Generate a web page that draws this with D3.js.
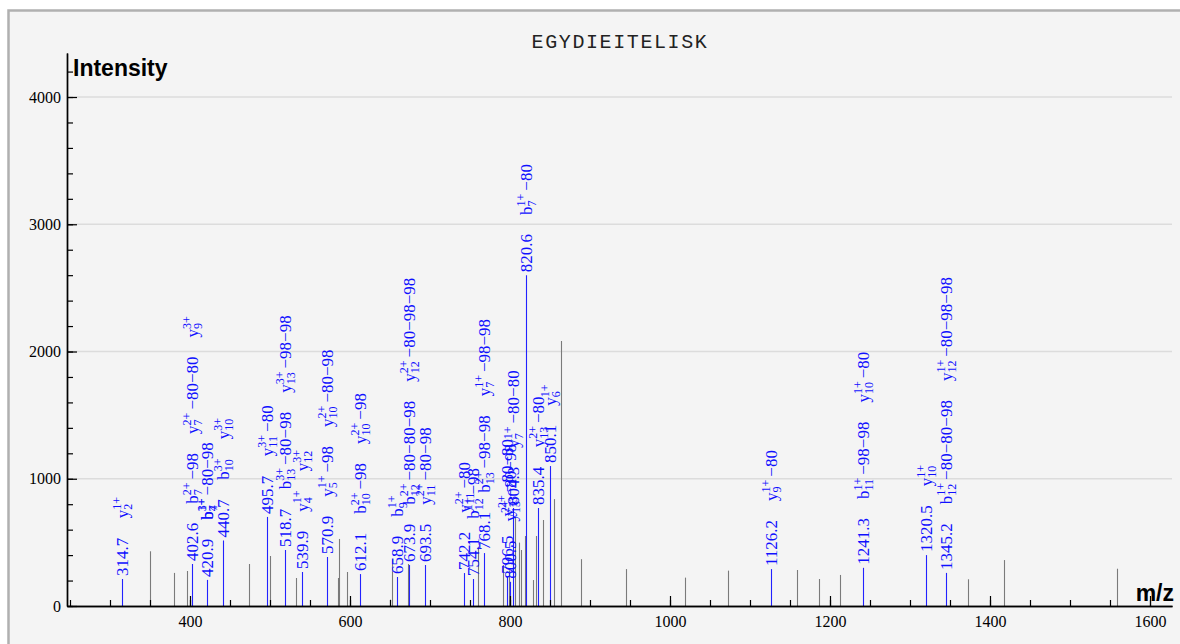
<!DOCTYPE html>
<html lang="en">
<head>
<meta charset="UTF-8">
<title>EGYDIEITELISK</title>
<style>
  html, body { margin: 0; padding: 0; background: #fff; overflow: hidden; }
  svg { display: block; }
</style>
</head>
<body>
<script src="https://cdn.jsdelivr.net/npm/d3@7"></script>
<script>
// ---- data ----
const peptide = 'EGYDIEITELISK';
const xMinor = d3.range(250, 1601, 50);
const xMajor = [400, 600, 800, 1000, 1200, 1400, 1600];
const yMinor = d3.range(0, 4201, 200);
const yMajor = [0, 1000, 2000, 3000, 4000];

// unannotated peaks
const grayMz  = [349.6, 380.4, 396.6, 474.0, 500.0, 532.0, 585.0, 586.5, 596.0, 650.0, 652.0, 672.5,
                 760.4, 791.7, 798.5, 806.3, 810.8, 813.8, 818.8, 828.3, 833.0, 841.7, 855.0, 863.3,
                 888.3, 944.6, 1018.7, 1072.9, 1158.3, 1186.3, 1212.9, 1372.1, 1417.1, 1558.8];
const grayInt = [430, 260, 275, 330, 393, 220, 220, 527, 267, 50, 370, 330,
                 466, 322, 280, 700, 498, 440, 550, 204, 550, 676, 840, 2083,
                 368, 290, 223, 278, 283, 212, 244, 210, 361, 293];

// annotated peaks
const annMz  = [314.7, 402.6, 420.9, 440.7, 495.7, 518.7, 539.9, 570.9, 612.1, 658.9, 673.9, 693.5,
                742.2, 754.1, 768.1, 796.5, 800.5, 804.3, 820.6, 835.4, 850.1, 1126.2, 1241.3, 1320.5, 1345.2];
const annInt = [212, 330, 205, 515, 700, 440, 267, 385, 251, 228, 322, 322,
                259, 212, 416, 230, 190, 770, 2600, 770, 1100, 290, 300, 400, 260];
// ion names stacked above each m/z label ("|" = drawn in the same slot)
const annIons = [
  ['y2^1+'],
  ['b7^2+ −98', 'y7^2+ −80−80', 'y9^3+'],
  ['b4^1+|b7^3+ −80−98'],
  ['b10^3+', 'y10^3+'],
  ['y11^3+ −80'],
  ['b13^3+ −80−98', 'y13^3+ −98−98'],
  ['y4^1+', 'y12^3+'],
  ['y5^1+ −98', 'y10^2+ −80−98'],
  ['b10^2+ −98', 'y10^2+ −98'],
  ['b9^1+'],
  ['b12^2+ −80−80−98', 'y12^2+ −80−98−98'],
  ['y11^2+ −80−98'],
  ['y11^2+ −80'],
  ['b12^1+ −98'],
  ['b13^2+ −98−98', 'y7^1+ −98−98'],
  ['y13^2+ −80−80'],
  ['y13^2+ −80−98'],
  ['y7^1+ −80−80'],
  ['b7^1+ −80'],
  ['y13^2+ −80'],
  ['y6^1+'],
  ['y9^1+ −80'],
  ['b11^1+ −98−98', 'y10^1+ −80'],
  ['y10^1+'],
  ['b12^1+ −80−80−98', 'y12^1+ −80−98−98']
];

// ---- layout ----
const W = 1180, H = 644;
const plot = { left: 67, right: 1172, bottom: 606, top: 53 };
const serif = '"Liberation Serif", "Times New Roman", serif';
const sans = '"Liberation Sans", Arial, sans-serif';

const x = d3.scaleLinear().domain([246.25, 1627.5]).range([plot.left, plot.right]);
const y = d3.scaleLinear().domain([0, 4346]).range([plot.bottom, plot.top]);

const svg = d3.select('body').append('svg').attr('width', W).attr('height', H);

svg.append('rect')
  .attr('x', 8.5).attr('y', 10.5).attr('width', 1240).attr('height', 700)
  .attr('fill', '#f4f4f4').attr('stroke', '#b0b0b0').attr('stroke-width', 2.5);

svg.append('text')
  .attr('x', 620).attr('y', 48).attr('text-anchor', 'middle')
  .attr('font-family', '"Courier New", Courier, "Liberation Mono", monospace')
  .attr('font-size', 20).attr('letter-spacing', 1.6).attr('fill', '#222')
  .text(peptide);

// grid
svg.append('g').selectAll('line').data(yMajor.slice(1)).join('line')
  .attr('x1', plot.left).attr('x2', plot.right)
  .attr('y1', d => y(d)).attr('y2', d => y(d))
  .attr('stroke', '#dcdcdc').attr('stroke-width', 1.5);

// gray peaks
svg.append('g').selectAll('line').data(d3.zip(grayMz, grayInt)).join('line')
  .attr('x1', d => Math.round(x(d[0])) + 0.5).attr('x2', d => Math.round(x(d[0])) + 0.5)
  .attr('y1', y(0)).attr('y2', d => y(d[1]))
  .attr('stroke', '#7a7a7a').attr('stroke-width', 1.1);

// annotated peaks
const ann = annMz.map((m, i) => ({ mz: m, it: annInt[i], ions: annIons[i] }));
svg.append('g').selectAll('line').data(ann).join('line')
  .attr('x1', d => Math.round(x(d.mz)) + 0.5).attr('x2', d => Math.round(x(d.mz)) + 0.5)
  .attr('y1', y(0)).attr('y2', d => y(d.it))
  .attr('stroke', '#2222ff').attr('stroke-width', 1.1);

// rotated labels
const labels = svg.append('g').attr('fill', '#1010ff').attr('font-family', serif);
const FS = 17, SS = 12, GAP = 19;

function ionText(t, str) {
  const m = str.match(/^([a-z])(\d+)\^(\d\+)\s*(.*)$/);
  t.append('tspan').text(m[1]);
  const sup = t.append('tspan').attr('font-size', SS).attr('dy', -7).text(m[3]);
  const supW = sup.node().getComputedTextLength();
  const sub = t.append('tspan').attr('font-size', SS).attr('dx', -supW).attr('dy', 11).text(m[2]);
  const subW = sub.node().getComputedTextLength();
  if (m[4]) {
    t.append('tspan').attr('dx', Math.max(0, supW - subW) + 3).attr('dy', -4).text(m[4]);
  }
}

function drawAt(px, py, fill) {
  const t = labels.append('text')
    .attr('transform', `translate(${px},${py}) rotate(-90)`)
    .attr('dy', '0.33em').attr('font-size', FS);
  fill(t);
  const b = t.node().getBBox();
  return b.x + b.width;
}

ann.forEach(d => {
  const px = Math.round(x(d.mz)) + 0.5;
  let cur = y(d.it) - 3;
  cur -= drawAt(px, cur, t => t.text(d3.format('.1f')(d.mz))) + GAP;
  d.ions.forEach(slot => {
    const len = d3.max(slot.split('|').map(s => drawAt(px, cur, t => ionText(t, s))));
    cur -= len + GAP;
  });
});

// axes
function styleAxis(g) {
  g.select('.domain').attr('stroke', '#000').attr('stroke-width', 1.4);
  g.selectAll('.tick line').attr('stroke', '#000').attr('stroke-width', 1.2);
  g.selectAll('text').attr('font-family', serif).attr('font-size', 16).attr('fill', '#000');
}

svg.append('g').attr('transform', `translate(0,${plot.bottom})`)
  .call(d3.axisBottom(x).tickValues(xMinor).tickSize(-6).tickSizeOuter(0).tickFormat(''))
  .call(styleAxis);
svg.append('g').attr('transform', `translate(0,${plot.bottom})`)
  .call(d3.axisBottom(x).tickValues(xMajor).tickSize(-10).tickSizeOuter(0).tickPadding(10).tickFormat(d3.format('d')))
  .call(styleAxis);

svg.append('g').attr('transform', `translate(${plot.left},0)`)
  .call(d3.axisLeft(y).tickValues(yMinor).tickSize(-6).tickSizeOuter(0).tickFormat(''))
  .call(styleAxis);
svg.append('g').attr('transform', `translate(${plot.left},0)`)
  .call(d3.axisLeft(y).tickValues(yMajor).tickSize(-10).tickSizeOuter(0).tickPadding(6).tickFormat(d3.format('d')))
  .call(styleAxis);

svg.append('text').attr('x', 73).attr('y', 76)
  .attr('font-family', sans).attr('font-weight', 'bold').attr('font-size', 23)
  .text('Intensity');
svg.append('text').attr('x', 1174).attr('y', 601).attr('text-anchor', 'end')
  .attr('font-family', sans).attr('font-weight', 'bold').attr('font-size', 23)
  .text('m/z');
</script>
</body>
</html>
